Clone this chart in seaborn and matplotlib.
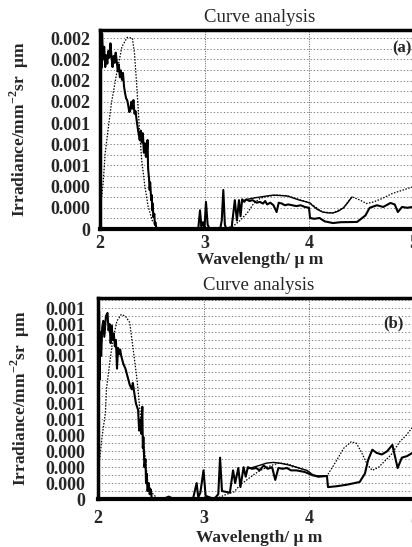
import matplotlib
matplotlib.use("Agg")
import matplotlib.pyplot as plt
from matplotlib.ticker import FixedLocator, MultipleLocator
import seaborn as sns

# wavelength (um), irradiance (x1e-4)
# panel (a)
a_meas = [(2.000, 23.0), (2.005, 15.0), (2.010, 22.5), (2.015, 19.0), (2.020, 23.1), (2.030, 20.0),
          (2.040, 21.5), (2.050, 19.1), (2.060, 20.5), (2.070, 19.5), (2.080, 21.0), (2.090, 20.2),
          (2.100, 21.9), (2.110, 20.3), (2.120, 19.1), (2.130, 20.4), (2.140, 19.6), (2.150, 20.8),
          (2.160, 19.8), (2.170, 18.6), (2.180, 19.4), (2.190, 17.9), (2.200, 18.7), (2.210, 17.6),
          (2.220, 18.4), (2.230, 16.8), (2.240, 16.0), (2.250, 15.4), (2.260, 15.2), (2.270, 14.6),
          (2.280, 13.8), (2.290, 14.0), (2.300, 15.0), (2.310, 14.2), (2.320, 15.2), (2.330, 13.6),
          (2.340, 13.9), (2.350, 12.9), (2.360, 12.0), (2.370, 11.2), (2.380, 10.5), (2.390, 11.6),
          (2.400, 10.2), (2.410, 11.3), (2.420, 9.0), (2.430, 10.1), (2.440, 8.5), (2.450, 9.4),
          (2.455, 10.5), (2.460, 7.2), (2.470, 5.8), (2.475, 4.6), (2.480, 5.5), (2.490, 3.4),
          (2.495, 4.0), (2.500, 2.2), (2.505, 3.0), (2.510, 1.4), (2.520, 1.8), (2.525, 0.5),
          (2.530, 0.8), (2.540, 0.0), (2.700, 0.0), (2.940, 0.0), (2.957, 2.2), (2.970, 0.3),
          (2.985, 0.8), (3.000, 0.2), (3.014, 3.2), (3.030, 0.5), (3.050, 0.0), (3.150, 0.0),
          (3.165, 1.0), (3.180, 4.6), (3.195, 0.5), (3.210, 0.0), (3.260, 0.2), (3.290, 3.4),
          (3.310, 1.0), (3.330, 3.4), (3.345, 1.5), (3.360, 3.5), (3.380, 3.2), (3.400, 3.5),
          (3.430, 3.3), (3.460, 3.4), (3.500, 3.1), (3.530, 3.2), (3.560, 3.0), (3.580, 3.3),
          (3.600, 2.9), (3.630, 3.1), (3.660, 2.8), (3.690, 2.0), (3.710, 3.1), (3.740, 3.0),
          (3.770, 2.8), (3.800, 2.9), (3.840, 2.8), (3.880, 2.7), (3.920, 2.8), (3.960, 2.6),
          (4.000, 2.5), (4.010, 1.3), (4.050, 1.2), (4.100, 1.3), (4.150, 0.9), (4.230, 0.7),
          (4.300, 0.8), (4.460, 0.83), (4.540, 1.6), (4.580, 2.5), (4.650, 2.8), (4.710, 2.6),
          (4.780, 3.07), (4.820, 2.9), (4.850, 2.0), (4.890, 2.6), (4.940, 2.5), (4.990, 2.6),
          (5.030, 2.8), (5.060, 2.7)]
a_smooth = [(3.36, 3.3), (3.41, 3.5), (3.47, 3.65), (3.53, 3.77), (3.60, 3.9), (3.66, 4.0),
            (3.72, 3.95), (3.79, 3.9), (3.85, 3.65), (3.91, 3.4), (3.96, 3.25), (4.01, 3.07),
            (4.03, 2.8), (4.08, 2.3), (4.13, 2.0), (4.18, 1.9), (4.23, 1.9), (4.28, 2.1),
            (4.33, 2.5), (4.37, 3.1), (4.41, 3.77)]
a_calc = [(2.00, 2.0), (2.03, 5.4), (2.05, 9.0), (2.08, 12.0), (2.11, 14.9), (2.16, 18.4),
          (2.21, 21.5), (2.26, 22.6), (2.31, 22.5), (2.33, 20.7), (2.35, 17.2), (2.38, 11.3),
          (2.40, 8.0), (2.43, 5.0), (2.46, 2.7), (2.50, 1.0), (2.55, 0.2), (2.60, 0.0),
          (3.10, 0.0), (3.20, 0.1), (3.27, 0.3), (3.34, 1.0), (3.41, 1.9), (3.47, 3.0),
          (3.53, 3.6), (3.60, 3.85), (3.70, 4.0), (3.80, 3.9), (3.90, 3.5), (4.00, 3.1),
          (4.05, 2.7), (4.13, 2.0), (4.23, 1.9), (4.33, 2.5), (4.41, 3.8), (4.49, 3.4),
          (4.55, 3.0), (4.62, 3.2), (4.70, 3.6), (4.80, 4.2), (4.90, 4.6), (5.00, 5.0), (5.06, 5.3)]
a_yticks = [0, 2.5, 5, 7.5, 10, 12.5, 15, 17.5, 20, 22.5]
a_yticklabels = ['0', '0.000', '0.000', '0.001', '0.001', '0.001', '0.002', '0.002', '0.002', '0.002']

# panel (b)
b_meas = [(2.000, 12.5), (2.005, 6.0), (2.010, 11.8), (2.015, 7.5), (2.020, 10.5), (2.030, 9.0),
          (2.040, 10.8), (2.050, 11.2), (2.060, 10.2), (2.075, 11.5), (2.090, 11.7), (2.100, 10.6),
          (2.110, 11.0), (2.120, 9.8), (2.130, 10.9), (2.140, 10.0), (2.150, 10.4), (2.160, 9.6),
          (2.170, 10.0), (2.180, 8.2), (2.190, 9.5), (2.200, 9.1), (2.210, 9.4), (2.220, 9.0),
          (2.240, 8.5), (2.260, 8.2), (2.280, 7.7), (2.300, 7.2), (2.320, 6.9), (2.330, 7.3),
          (2.350, 6.4), (2.360, 6.0), (2.380, 5.6), (2.390, 4.3), (2.400, 5.0), (2.410, 4.1),
          (2.420, 5.8), (2.425, 3.2), (2.430, 3.9), (2.440, 2.0), (2.450, 2.5), (2.455, 1.0),
          (2.460, 1.6), (2.470, 0.5), (2.480, 1.0), (2.490, 0.3), (2.500, 0.6), (2.510, 0.0),
          (2.620, 0.0), (2.670, 0.15), (2.720, 0.0), (2.900, 0.0), (2.935, 1.0), (2.950, 0.1),
          (2.970, 0.4), (3.000, 1.8), (3.020, 0.2), (3.100, 0.0), (3.140, 0.3), (3.157, 2.6),
          (3.175, 0.5), (3.250, 0.4), (3.280, 1.8), (3.300, 1.0), (3.330, 1.95), (3.350, 0.75),
          (3.380, 2.0), (3.400, 1.4), (3.420, 2.0), (3.460, 1.9), (3.500, 1.95), (3.530, 1.8),
          (3.570, 2.1), (3.610, 1.9), (3.650, 2.0), (3.680, 1.2), (3.710, 1.95), (3.750, 1.9),
          (3.790, 1.95), (3.830, 1.8), (3.880, 1.8), (3.920, 1.75), (3.960, 1.7), (4.030, 1.5),
          (4.090, 1.4), (4.170, 1.45), (4.180, 0.75), (4.260, 0.8), (4.360, 0.9), (4.480, 1.07),
          (4.530, 1.6), (4.560, 2.45), (4.600, 3.1), (4.640, 2.9), (4.690, 2.8), (4.740, 3.0),
          (4.790, 3.4), (4.840, 1.95), (4.880, 2.6), (4.930, 2.7), (4.980, 2.9), (5.050, 2.7)]
b_smooth = [(3.42, 1.9), (3.50, 2.05), (3.60, 2.26), (3.66, 2.3), (3.72, 2.26), (3.80, 2.15),
            (3.88, 2.0), (3.98, 1.8), (4.04, 1.5), (4.09, 1.45), (4.17, 1.45)]
b_calc = [(2.00, 1.5), (2.04, 4.0), (2.07, 5.4), (2.08, 6.9), (2.11, 8.5), (2.14, 10.0),
          (2.18, 11.2), (2.22, 11.6), (2.26, 11.5), (2.30, 11.1), (2.33, 9.6), (2.37, 7.5),
          (2.40, 5.4), (2.43, 3.7), (2.45, 2.5), (2.47, 1.2), (2.51, 0.4), (2.56, 0.05),
          (2.60, 0.0), (3.05, 0.0), (3.13, 0.05), (3.22, 0.3), (3.29, 0.45), (3.35, 0.9),
          (3.41, 1.2), (3.48, 1.55), (3.54, 1.8), (3.60, 2.0), (3.66, 2.15), (3.72, 2.26),
          (3.80, 2.2), (3.88, 2.0), (3.98, 1.8), (4.04, 1.5), (4.09, 1.45), (4.17, 1.45),
          (4.25, 2.3), (4.33, 3.2), (4.40, 3.6), (4.45, 3.5), (4.50, 2.9), (4.55, 2.2),
          (4.60, 1.8), (4.66, 2.0), (4.72, 2.4), (4.78, 2.8), (4.86, 3.6), (4.92, 4.0),
          (4.98, 4.5), (5.05, 5.0)]
b_yticks = [0, 1, 2, 3, 4, 5, 6, 7, 8, 9, 10, 11, 12]
b_yticklabels = ['0'] + ['0.000'] * 4 + ['0.001'] * 8

xticks = [2, 3, 4, 5]
title = 'Curve analysis'
xlabel = 'Wavelength/ μ m'
ylabel = r'Irradiance/mm$^{\mathbf{-2}}$sr  μm'

sns.set_style('white')
plt.rcParams['font.family'] = ['Liberation Serif', 'DejaVu Serif']
plt.rcParams['mathtext.fontset'] = 'custom'
plt.rcParams['mathtext.rm'] = 'Liberation Serif'
plt.rcParams['mathtext.bf'] = 'Liberation Serif:bold'

fig = plt.figure(figsize=(4.12, 5.47), dpi=100)


def line(ax, pts, **kw):
    x = [p[0] for p in pts]
    y = [p[1] for p in pts]
    sns.lineplot(x=x, y=y, ax=ax, color='k', estimator=None, sort=False, **kw)


def panel(rect, xmax, ytop, meas, smooth, calc, yticks, ylabels, tag, tagpos, ypad, xpad, lpad, ylab_x):
    ax = fig.add_axes(rect)
    ax.yaxis.set_minor_locator(MultipleLocator((yticks[1] - yticks[0]) / 2))
    ax.grid(which='both', axis='y', color='0.4', lw=0.6, ls=(0, (1.5, 2.5)))
    ax.grid(which='major', axis='x', color='0.35', lw=0.7, ls=(0, (1, 1.5)))
    line(ax, calc, lw=0.9, ls=(0, (1.2, 1.2)))
    line(ax, smooth, lw=1.0)
    line(ax, meas, lw=1.5)
    ax.set_xlim(2, xmax)
    ax.set_ylim(0, ytop)
    ax.xaxis.set_major_locator(FixedLocator(xticks))
    ax.set_xticklabels([str(t) for t in xticks])
    ax.yaxis.set_major_locator(FixedLocator(yticks))
    ax.set_yticklabels(ylabels)
    ax.tick_params(length=0, labelsize=13)
    ax.tick_params(axis='y', pad=ypad)
    ax.tick_params(axis='x', pad=xpad)
    for lab in ax.get_xticklabels() + ax.get_yticklabels():
        lab.set_fontweight('bold')
    for s in ['left', 'top', 'bottom']:
        ax.spines[s].set_color('k')
        ax.spines[s].set_linewidth(2.5)
    ax.spines['bottom'].set_linewidth(3)
    ax.spines['right'].set_visible(False)
    ax.set_title(title, fontsize=13.5, pad=6)
    ax.set_xlabel(xlabel, fontsize=12.5, fontweight='bold', labelpad=lpad)
    ax.set_ylabel(ylabel, fontsize=12.5, fontweight='bold')
    ax.yaxis.set_label_coords(ylab_x, 0.5)
    ax.text(tagpos[0], tagpos[1], tag, transform=ax.transAxes, fontsize=12, fontweight='bold',
            ha='center', va='center')
    return ax


panel([100 / 412, 1 - 229 / 547, 320 / 412, 199 / 547], 5.062, 23.47,
      a_meas, a_smooth, a_calc, a_yticks, a_yticklabels, '(a)', (0.944, 0.91), 7, 4, 0, -0.215)
panel([98 / 412, 1 - 499 / 547, 322 / 412, 201 / 547], 5.052, 12.64,
      b_meas, b_smooth, b_calc, b_yticks, b_yticklabels, '(b)', (0.919, 0.876), 9, 8, 2, -0.205)

fig.savefig('out.png', dpi=100)
